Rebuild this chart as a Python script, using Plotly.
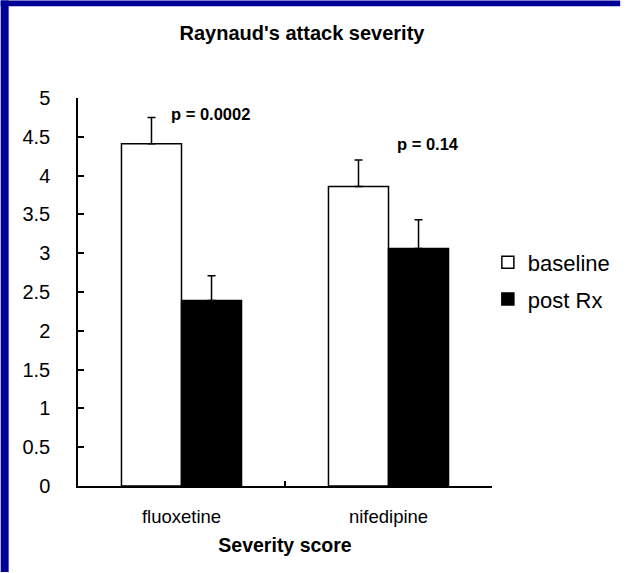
import plotly.graph_objects as go

categories = ["fluoxetine", "nifedipine"]
baseline = [4.41, 3.86]
baseline_err = [0.34, 0.34]
post_rx = [2.39, 3.06]
post_rx_err = [0.32, 0.37]
p_labels = ["p = 0.0002", "p = 0.14"]
p_x = [0.14, 1.19]
p_y = [4.79, 4.41]
y_ticks = [0, 0.5, 1, 1.5, 2, 2.5, 3, 3.5, 4, 4.5, 5]

FONT = "Arial, Liberation Sans, sans-serif"
BLUE = "#000096"

fig = go.Figure()
fig.add_trace(go.Bar(
    x=categories, y=baseline, name="baseline", legendgroup="a",
    marker=dict(color="white", line=dict(color="black", width=1.5)),
    error_y=dict(type="data", array=baseline_err, arrayminus=[0, 0], symmetric=False,
                 color="black", thickness=1.5, width=4),
))
fig.add_trace(go.Bar(
    x=categories, y=post_rx, name="post Rx", legendgroup="b",
    marker=dict(color="black", line=dict(color="black", width=1.5)),
    error_y=dict(type="data", array=post_rx_err, arrayminus=[0, 0], symmetric=False,
                 color="black", thickness=1.5, width=4),
))

for lab, px, py in zip(p_labels, p_x, p_y):
    fig.add_annotation(x=px, y=py, xref="x", yref="y", text="<b>%s</b>" % lab,
                       showarrow=False, font=dict(size=16.5, color="black", family=FONT))

L, R, T, B = 77.5, 136.5, 97.7, 87
W, H = 629, 573
pw = W - L - R
ph = H - T - B
def px2x(p):
    return (p - L) / pw
def py2y(p):
    return (H - B - p) / ph

# blue frame strips (left and top)
fig.add_shape(type="rect", xref="paper", yref="paper", x0=px2x(0), x1=px2x(8),
              y0=py2y(H - 1), y1=py2y(0), fillcolor=BLUE, line=dict(width=0), layer="below")
fig.add_shape(type="rect", xref="paper", yref="paper", x0=px2x(0), x1=px2x(W - 8),
              y0=py2y(6), y1=py2y(0), fillcolor=BLUE, line=dict(width=0), layer="below")

fig.update_layout(
    width=W, height=H,
    margin=dict(l=L, r=R, t=T, b=B, autoexpand=False),
    paper_bgcolor="white", plot_bgcolor="white",
    barmode="group", bargap=0.42, bargroupgap=0,
    font=dict(family=FONT, color="black"),
    title=dict(text="<b>Raynaud's attack severity</b>", x=302 / W, xref="container",
               xanchor="center", y=1 - 33 / H, yref="container", yanchor="middle",
               font=dict(size=20, family=FONT, color="black")),
    legend=dict(x=0.99, xanchor="left", y=0.63, yanchor="top", tracegroupgap=5,
                font=dict(size=22, family=FONT, color="black"), bgcolor="rgba(0,0,0,0)"),
    xaxis=dict(range=[-0.5, 1.5], showline=True, linecolor="black", linewidth=1.5,
               ticks="inside", tickson="boundaries", ticklen=5, tickwidth=1.5, tickcolor="black",
               tickfont=dict(size=18.5, family=FONT, color="black"), ticklabelstandoff=13,
               title=dict(text="<b>Severity score</b>", standoff=12,
                          font=dict(size=19.5, family=FONT, color="black")),
               showgrid=False, zeroline=False),
    yaxis=dict(range=[0, 5], tickvals=y_ticks, showline=True, linecolor="black", linewidth=1.5,
               ticks="inside", ticklen=6, tickwidth=1.5, tickcolor="black",
               tickfont=dict(size=20, family=FONT, color="black"), ticklabelstandoff=22,
               showgrid=False, zeroline=False),
)

fig.write_html("out.html")
